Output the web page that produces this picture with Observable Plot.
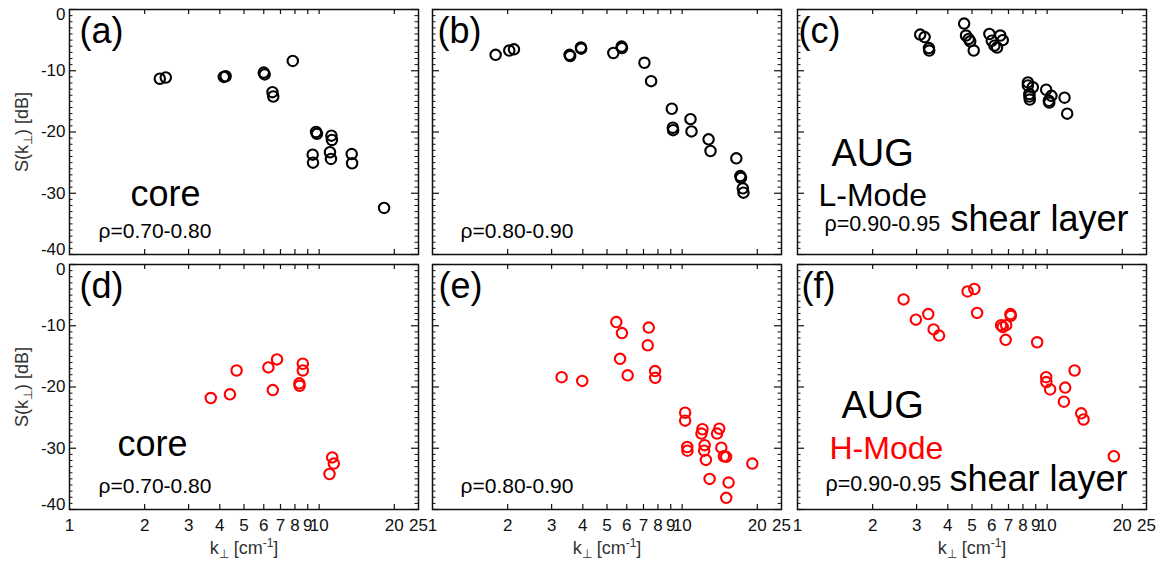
<!DOCTYPE html>
<html><head><meta charset="utf-8">
<script src="https://cdn.jsdelivr.net/npm/d3@7"></script>
<script src="https://cdn.jsdelivr.net/npm/@observablehq/plot@0.6"></script>
<style>
body{margin:0;background:#fff;}
#chart{position:relative;width:1160px;height:561px;overflow:hidden;background:#fff;}
#chart svg{position:absolute;}
</style></head><body><div id="chart"></div>
<script>
// ---- data: k_perp [cm^-1] and S(k_perp) [dB] per panel ----
const kA = [2.30, 2.43, 4.15, 4.22, 6.00, 6.05, 6.50, 6.55, 7.84, 9.72, 9.80, 9.42, 9.45, 11.2, 11.25, 11.05, 11.15, 13.5, 13.55, 18.2];
const sA = [-11.3, -11.1, -11.0, -10.9, -10.3, -10.6, -13.5, -14.2, -8.4, -20.0, -20.3, -23.7, -25.0, -20.6, -21.3, -23.3, -24.4, -23.6, -25.1, -32.4];

const kB = [1.79, 2.03, 2.12, 3.54, 3.56, 3.93, 3.94, 5.30, 5.72, 5.74, 7.06, 7.51, 9.09, 9.17, 9.20, 10.8, 10.9, 12.76, 12.99, 16.48, 17.1, 17.2, 17.5, 17.6];
const sB = [-7.4, -6.7, -6.5, -7.4, -7.6, -6.2, -6.4, -7.1, -6.05, -6.3, -8.7, -11.7, -16.2, -19.3, -19.7, -17.9, -19.9, -21.2, -23.1, -24.3, -27.2, -27.5, -29.2, -29.9];

const kC = [3.10, 3.23, 3.36, 3.37, 4.65, 4.73, 4.85, 4.92, 5.08, 5.87, 6.00, 6.15, 6.30, 6.49, 6.64, 8.37, 8.37, 8.76, 8.49, 8.49, 8.52, 9.91, 10.4, 10.15, 10.2, 11.74, 12.03];
const sC = [-4.1, -4.5, -6.3, -6.7, -2.3, -4.25, -4.8, -5.2, -6.7, -4.0, -5.1, -5.9, -6.2, -4.25, -5.0, -11.9, -12.4, -12.7, -13.8, -14.2, -14.7, -13.1, -14.1, -14.9, -15.2, -14.4, -17.0];

const kD = [3.68, 4.39, 4.67, 6.26, 6.78, 6.52, 8.33, 8.35, 8.60, 8.60, 11.28, 11.45, 11.0];
const sD = [-21.8, -21.2, -17.3, -16.8, -15.5, -20.5, -19.4, -19.8, -16.2, -17.3, -31.5, -32.5, -34.2];

const kE = [3.29, 3.98, 5.45, 5.74, 5.64, 6.05, 7.35, 7.28, 7.79, 7.80, 10.28, 10.28, 10.48, 10.50, 12.06, 11.95, 12.3, 12.25, 12.45, 12.88, 14.08, 13.8, 14.35, 14.7, 15.0, 15.35, 15.02, 19.1];
const sE = [-18.4, -19.0, -9.4, -11.2, -15.4, -18.1, -10.3, -13.2, -17.4, -18.5, -24.2, -25.5, -29.8, -30.4, -26.9, -27.6, -29.5, -30.4, -31.9, -35.0, -26.8, -27.6, -29.9, -31.3, -31.4, -35.6, -38.1, -32.5];

const kF = [2.66, 2.98, 3.34, 3.51, 3.69, 4.80, 5.11, 5.24, 6.54, 6.64, 6.85, 6.82, 7.13, 7.15, 9.12, 9.91, 9.93, 10.28, 12.88, 11.81, 11.67, 13.69, 13.99, 18.5];
const sF = [-5.7, -9.0, -8.1, -10.6, -11.6, -4.4, -4.0, -7.9, -9.9, -10.2, -9.9, -12.3, -8.1, -8.4, -12.7, -18.4, -19.2, -20.4, -17.3, -20.1, -22.4, -24.3, -25.3, -31.3];

// ---- ticks ----
const xTickLabels = [1, 2, 3, 4, 5, 6, 7, 8, 9, 10, 20, 25];
const xTickMarks = [2, 3, 4, 5, 6, 7, 8, 9, 10, 20];
const yMajor = [0, -10, -20, -30, -40];
const yMinor = d3.range(-39, 0).filter(v => v % 10 !== 0);

const yLabel = "S(k⊥) [dB]";
const xLabel = "k⊥ [cm-1]";

// ---- layout ----
const FW = 349, FH = 245;
const ML = 69, MT = 9, MR = 14, MB = 52;
const colLeft = [69, 432, 797];
const rowTop = [9, 264];
const FONT = "Liberation Sans, Arial, Helvetica, sans-serif";
const RED = "#ff0000";

const panels = [
  {k: kA, s: sA, col: 0, row: 0, color: "#000", notes: [
    {t: "(a)", dx: 10, dy: 33, size: 36},
    {t: "core", dx: 61, dy: 196, size: 36},
    {t: "ρ=0.70-0.80", dx: 29, dy: 228, size: 21}]},
  {k: kB, s: sB, col: 1, row: 0, color: "#000", notes: [
    {t: "(b)", dx: 5, dy: 33, size: 36},
    {t: "ρ=0.80-0.90", dx: 28, dy: 228, size: 21}]},
  {k: kC, s: sC, col: 2, row: 0, color: "#000", notes: [
    {t: "(c)", dx: 1, dy: 33, size: 36},
    {t: "AUG", dx: 34, dy: 156, size: 38},
    {t: "L-Mode", dx: 21, dy: 196, size: 32},
    {t: "ρ=0.90-0.95", dx: 27, dy: 221, size: 21.5},
    {t: "shear layer", dx: 153, dy: 221, size: 36}]},
  {k: kD, s: sD, col: 0, row: 1, color: RED, notes: [
    {t: "(d)", dx: 10, dy: 33, size: 36},
    {t: "core", dx: 48, dy: 191, size: 36},
    {t: "ρ=0.70-0.80", dx: 29, dy: 228, size: 21}]},
  {k: kE, s: sE, col: 1, row: 1, color: RED, notes: [
    {t: "(e)", dx: 6, dy: 33, size: 36},
    {t: "ρ=0.80-0.90", dx: 28, dy: 228, size: 21}]},
  {k: kF, s: sF, col: 2, row: 1, color: RED, notes: [
    {t: "(f)", dx: 4, dy: 33, size: 36},
    {t: "AUG", dx: 44, dy: 153, size: 38},
    {t: "H-Mode", dx: 32, dy: 194, size: 32, color: RED},
    {t: "ρ=0.90-0.95", dx: 28, dy: 226, size: 21.5},
    {t: "shear layer", dx: 152, dy: 226, size: 36}]}
];

const chart = document.getElementById("chart");
const INK = "#111";

for (const p of panels) {
  const data = p.k.map((k, i) => ({k, s: p.s[i]}));
  const left = p.col === 0, bottom = p.row === 1;
  const marks = [
    Plot.ruleX(xTickMarks, {x: d => d, insetBottom: FH - 5, stroke: INK, strokeWidth: 1.2}),
    Plot.ruleX(xTickMarks, {x: d => d, insetTop: FH - 5, stroke: INK, strokeWidth: 1.2}),
    Plot.ruleY(yMajor, {y: d => d, insetRight: FW - 7, stroke: INK, strokeWidth: 1.2}),
    Plot.ruleY(yMajor, {y: d => d, insetLeft: FW - 7, stroke: INK, strokeWidth: 1.2}),
    Plot.ruleY(yMinor, {y: d => d, insetRight: FW - 3.5, stroke: INK, strokeWidth: 1}),
    Plot.ruleY(yMinor, {y: d => d, insetLeft: FW - 3.5, stroke: INK, strokeWidth: 1}),
    Plot.frame({stroke: INK, strokeWidth: 1.5}),
    Plot.dot(data, {x: "k", y: "s", r: 5.2, stroke: p.color, strokeWidth: 2.1, fill: "none"})
  ];
  for (const n of p.notes) {
    marks.push(Plot.text([n.t], {text: d => d, frameAnchor: "top-left", textAnchor: "start", lineAnchor: "bottom",
      dx: n.dx, dy: n.dy, fontSize: n.size, fill: n.color || "#000"}));
  }
  if (left) {
    // IDL nudges the end labels inside the frame
    marks.push(Plot.text(yMajor.filter(d => d === 0), {y: d => d, text: d => String(d), frameAnchor: "left", textAnchor: "end",
      dx: -4, dy: 5, fontSize: 17, fill: INK}));
    marks.push(Plot.text(yMajor.filter(d => d !== 0 && d !== -40), {y: d => d, text: d => String(d), frameAnchor: "left", textAnchor: "end",
      dx: -4, fontSize: 17, fill: INK}));
    marks.push(Plot.text(yMajor.filter(d => d === -40), {y: d => d, text: d => String(d), frameAnchor: "left", textAnchor: "end",
      dx: -4, dy: -5, fontSize: 17, fill: INK}));
    marks.push(Plot.text([yLabel], {text: d => d, frameAnchor: "left", textAnchor: "middle", lineAnchor: "bottom",
      rotate: -90, dx: -42, fontSize: 18, fill: "#333"}));
  }
  if (bottom) {
    marks.push(Plot.text(xTickLabels, {x: d => d, text: d => String(d), frameAnchor: "bottom", lineAnchor: "top",
      dy: 9, fontSize: 17, fill: INK}));
    marks.push(Plot.text([xLabel], {text: d => d, frameAnchor: "bottom", textAnchor: "middle", lineAnchor: "bottom",
      dy: 44, fontSize: 18, fill: "#333"}));
  }
  const svg = Plot.plot({
    width: ML + FW + MR, height: MT + FH + MB,
    marginLeft: ML, marginRight: MR, marginTop: MT, marginBottom: MB,
    x: {type: "log", domain: [1, 25], axis: null},
    y: {domain: [-40, 0], axis: null},
    style: {fontFamily: FONT, overflow: "visible", background: "transparent"},
    marks
  });
  svg.style.left = (colLeft[p.col] - ML) + "px";
  svg.style.top = (rowTop[p.row] - MT) + "px";
  svg.style.maxWidth = "none";
  chart.appendChild(svg);
}

// rich text (subscripts / superscripts) for the axis labels
function rich(el, parts) {
  el.textContent = "";
  for (const [txt, opt] of parts) {
    const ts = document.createElementNS("http://www.w3.org/2000/svg", "tspan");
    ts.textContent = txt;
    ts.setAttribute("font-size", (opt && opt.size) || "18px");
    if (opt && opt.dy) ts.setAttribute("dy", opt.dy);
    el.appendChild(ts);
  }
}
chart.querySelectorAll("text").forEach(el => {
  if (el.textContent === yLabel) {
    rich(el, [["S(k"], ["⊥", {size: "12px", dy: 4}], [") [dB]", {dy: -4}]]);
  } else if (el.textContent === xLabel) {
    rich(el, [["k"], ["⊥", {size: "12px", dy: 4}], [" [cm", {dy: -4}], ["-1", {size: "12px", dy: -7}], ["]", {dy: 7}]]);
  }
});
</script></body></html>
